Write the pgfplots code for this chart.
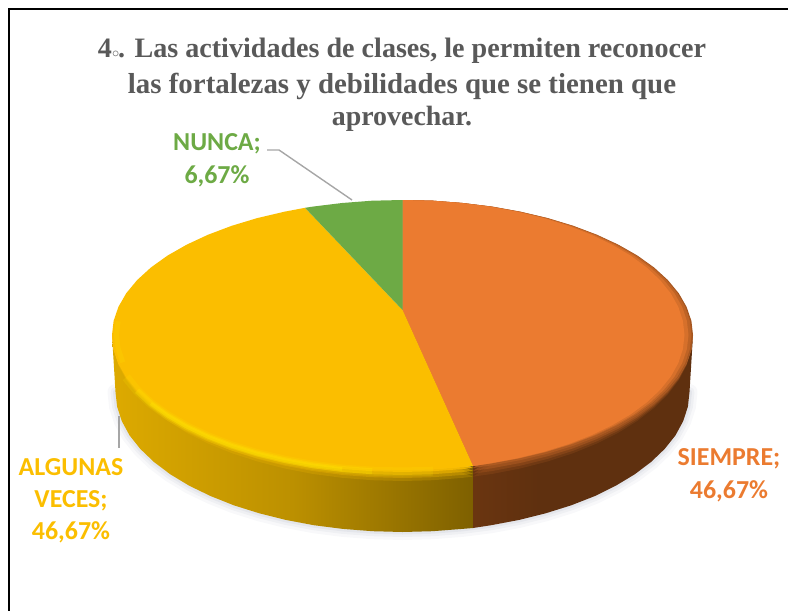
\documentclass[border=0pt]{standalone}
\usepackage{fontspec}
\setmainfont{Liberation Serif}
\newfontfamily\lab{Carlito}
\usepackage{pgfplots}
\pgfplotsset{compat=1.18}
\definecolor{naranja}{HTML}{EB7B30}
\definecolor{amarillo}{HTML}{FBBE00}
\definecolor{verde}{HTML}{6DAA45}
\definecolor{titulo}{HTML}{595959}
\definecolor{guia}{HTML}{A6A6A6}
\definecolor{sombra}{HTML}{B8BCCB}
\definecolor{cafe}{HTML}{5F300F}
\definecolor{cafeclaro}{HTML}{6A3510}
\definecolor{brillo}{HTML}{FFE800}
\definecolor{ladoA}{HTML}{DDAA00}
\definecolor{ladoB}{HTML}{BC9000}
\definecolor{ladoC}{HTML}{7E6000}
\pgfdeclarehorizontalshading{ladoamarillo}{100bp}{color(0bp)=(ladoA); color(25bp)=(ladoA); color(50bp)=(ladoB); color(75bp)=(ladoC); color(100bp)=(ladoC)}
\pgfdeclarehorizontalshading{ladocafe}{100bp}{color(0bp)=(cafeclaro); color(25bp)=(cafeclaro); color(40bp)=(cafe); color(100bp)=(cafe)}
\pgfplotstableread{
x y
115.5 392
117.1 406.6
121.8 421.1
129.5 435.3
140.3 448.9
154 462
170.3 474.3
189.2 485.7
210.5 496
233.8 505.3
259 513.2
285.8 519.9
313.8 525.2
342.8 528.9
372.5 531.2
402.5 532
432.5 531.2
462.2 528.9
491.2 525.2
519.2 519.9
546 513.2
571.2 505.3
595 496
615.8 485.7
634.7 474.3
651 462
664.7 448.9
675.5 435.3
683.2 421.1
687.9 406.6
689.5 392
}\bordeinferior
\pgfplotstableread{
x b2 b5 b8 b11
112 335 335 335 335
113.6 349.3 349.6 349.9 350.3
118.4 363.5 364.1 364.7 365.4
126.2 377.3 378.3 379.2 380.1
137.1 390.7 391.9 393.2 394.4
150.9 403.5 405 406.5 408
167.5 415.5 417.3 419.1 420.8
186.6 426.7 428.7 430.7 432.7
208.1 436.8 439 441.3 443.5
231.7 445.8 448.3 450.7 453.1
257.2 453.6 456.2 458.8 461.4
284.4 460.1 462.9 465.6 468.4
312.7 465.3 468.2 471 473.9
342.1 469 471.9 474.9 477.8
372.1 471.2 474.2 477.2 480.2
402.5 472 475 478 481
432.9 471.2 474.2 477.2 480.2
462.9 469 471.9 474.9 477.8
473 467.9 470.8 473.7 476.6
}\biselamarillo
\pgfplotstableread{
x b2 b5 b8 b11
473 467.9 470.8 473.7 476.6
492.3 465.3 468.2 471 473.9
520.6 460.1 462.9 465.6 468.4
547.8 453.6 456.2 458.8 461.4
573.3 445.8 448.3 450.7 453.1
596.9 436.8 439 441.3 443.5
618.4 426.7 428.7 430.7 432.7
637.5 415.5 417.3 419.1 420.8
654.1 403.5 405 406.5 408
667.9 390.7 391.9 393.2 394.4
678.8 377.3 378.3 379.2 380.1
686.6 363.5 364.1 364.7 365.4
691.4 349.3 349.6 349.9 350.3
693 335 335 335 335
}\biselnaranja
\pgfplotstableread{
y a290 a289 a286 a282
310 402.5 402.5 402.5 402.5
200 402.5 402.5 402.5 402.5
200.7 432.9 432.7 432.4 432
203 462.9 462.6 462 461.1
206.6 492.3 491.8 490.9 489.6
211.7 520.6 520 518.8 517.2
218.1 547.8 547 545.5 543.5
225.8 573.3 572.4 570.6 568.3
234.7 596.9 595.9 593.9 591.2
244.7 618.4 617.3 615 612.1
255.6 637.5 636.3 633.9 630.6
267.5 654.1 652.8 650.2 646.7
280.1 667.9 666.5 663.8 660.1
293.3 678.8 677.4 674.5 670.7
306.9 686.6 685.2 682.2 678.3
320.9 691.4 689.9 686.9 682.9
335 693 691.5 688.5 684.5
349.1 691.4 689.9 686.9 682.9
363.1 686.6 685.2 682.2 678.3
376.7 678.8 677.4 674.5 670.7
389.9 667.9 666.5 663.8 660.1
402.5 654.1 652.8 650.2 646.7
414.4 637.5 636.3 633.9 630.6
425.3 618.4 617.3 615 612.1
435.3 596.9 595.9 593.9 591.2
444.2 573.3 572.4 570.6 568.3
451.9 547.8 547 545.5 543.5
458.3 520.6 520 518.8 517.2
463.4 492.3 491.8 490.9 489.6
466 473 473 473 473
}\caranaranja
\begin{document}
\begin{tikzpicture}
\begin{axis}[
  width=788bp, height=611bp, scale only axis,
  xmin=0, xmax=788, ymin=0, ymax=611, y dir=reverse,
  axis lines=none, no markers, clip=true]
\path (axis cs:0,0) rectangle (axis cs:788,611);
% sombra bajo el disco
\addplot[sombra, opacity=.10, line width=16bp, line cap=round] table[x=x,y=y] {\bordeinferior};
\addplot[sombra, opacity=.14, line width=10bp, line cap=round] table[x=x,y=y] {\bordeinferior};
\addplot[sombra, opacity=.20, line width=5bp, line cap=round] table[x=x,y=y] {\bordeinferior};
% costados
\addplot[draw=none, shade, shading=ladoamarillo] coordinates {
(112,335)(113.6,349.1)(118.4,363.1)(126.2,376.7)(137.1,389.9)(150.9,402.5)(167.5,414.4)(186.6,425.3)(208.1,435.3)(231.7,444.2)(257.2,451.9)(284.4,458.3)(312.7,463.4)(342.1,467)(372.1,469.3)(402.5,470)(432.9,469.3)(462.9,467)(473,466)
(473,528)(462.2,528.9)(432.5,531.2)(402.5,532)(372.5,531.2)(342.8,528.9)(313.8,525.2)(285.8,519.9)(259,513.2)(233.8,505.3)(210.5,496)(189.2,485.7)(170.3,474.3)(154,462)(140.3,448.9)(129.5,435.3)(121.8,421.1)(117.1,406.6)(115.5,392)
} --cycle;
\addplot[draw=none, shade, shading=ladocafe] coordinates {
(473,466)(492.3,463.4)(520.6,458.3)(547.8,451.9)(573.3,444.2)(596.9,435.3)(618.4,425.3)(637.5,414.4)(654.1,402.5)(667.9,389.9)(678.8,376.7)(686.6,363.1)(691.4,349.1)(693,335)
(689.5,392)(687.9,406.6)(683.2,421.1)(675.5,435.3)(664.7,448.9)(651,462)(634.7,474.3)(615.8,485.7)(595,496)(571.2,505.3)(546,513.2)(519.2,519.9)(491.2,525.2)(473,528)
} --cycle;
% bisel bajo la cara superior
\addplot[draw=none, fill=amarillo, opacity=.2] table[x=x,y=b11] {\biselamarillo} --cycle;
\addplot[draw=none, fill=amarillo, opacity=.3] table[x=x,y=b8] {\biselamarillo} --cycle;
\addplot[draw=none, fill=amarillo, opacity=.5] table[x=x,y=b5] {\biselamarillo} --cycle;
\addplot[draw=none, fill=amarillo, opacity=.8] table[x=x,y=b2] {\biselamarillo} --cycle;
\addplot[draw=none, fill=naranja!60!cafe, opacity=.2] table[x=x,y=b11] {\biselnaranja} --cycle;
\addplot[draw=none, fill=naranja!60!cafe, opacity=.3] table[x=x,y=b8] {\biselnaranja} --cycle;
\addplot[draw=none, fill=naranja!60!cafe, opacity=.5] table[x=x,y=b5] {\biselnaranja} --cycle;
\addplot[draw=none, fill=naranja!60!cafe, opacity=.8] table[x=x,y=b2] {\biselnaranja} --cycle;
% cara naranja, de fuera hacia dentro
\addplot[draw=none, fill=naranja!50!cafe] table[x=a290,y=y] {\caranaranja} --cycle;
\addplot[draw=none, fill=naranja!68!cafe] table[x=a289,y=y] {\caranaranja} --cycle;
\addplot[draw=none, fill=naranja!85!cafe] table[x=a286,y=y] {\caranaranja} --cycle;
\addplot[draw=none, fill=naranja] table[x=a282,y=y] {\caranaranja} --cycle;
% caras superiores
\addplot[draw=none, fill=amarillo] coordinates {
(402.5,310)(473,466)(462.9,467)(432.9,469.3)(402.5,470)(372.1,469.3)(342.1,467)(312.7,463.4)(284.4,458.3)(257.2,451.9)(231.7,444.2)(208.1,435.3)(186.6,425.3)(167.5,414.4)(150.9,402.5)(137.1,389.9)(126.2,376.7)(118.4,363.1)(113.6,349.1)(112,335)(113.6,320.9)(118.4,306.9)(126.2,293.3)(137.1,280.1)(150.9,267.5)(167.5,255.6)(186.6,244.7)(208.1,234.7)(231.7,225.8)(257.2,218.1)(284.4,211.7)(305,207.8)
} --cycle;
\addplot[draw=none, fill=verde] coordinates {
(402.5,310)(305,207.8)(312.7,206.6)(342.1,203)(372.1,200.7)(402.5,200)
} --cycle;
% brillo del borde amarillo
\addplot[brillo, opacity=.18, line width=5bp] coordinates {(118.1,321.3)(116.5,335)(118.1,348.7)(122.8,362.3)};
\addplot[brillo, opacity=.15, line width=9bp, restrict x to domain=126:433] table[x=x,y=b2] {\biselamarillo};
\addplot[brillo, opacity=.25, line width=6bp, restrict x to domain=137:373] table[x=x,y=b2] {\biselamarillo};
\addplot[brillo, opacity=.35, line width=3.5bp, restrict x to domain=150:343] table[x=x,y=b2] {\biselamarillo};
% guias
\addplot[guia, line width=1.4bp] coordinates {(267,150)(279,150)(352,200)};
\addplot[guia, line width=1.4bp] coordinates {(119,416)(119,448)};
% marco
\addplot[black, line width=2bp] coordinates {(9,611)(9,9.3)(788,9.3)};
% titulo
\node[anchor=base, text=titulo, font=\fontsize{28.2}{30}\selectfont\bfseries] at (axis cs:402,58) {4{\fontsize{14}{14}\selectfont$\circ$}\kern-1pt. Las actividades de clases, le permiten reconocer};
\node[anchor=base, text=titulo, font=\fontsize{29}{30}\selectfont\bfseries] at (axis cs:402,93.5) {las fortalezas y debilidades que se tienen que};
\node[anchor=base, text=titulo, font=\fontsize{28}{30}\selectfont\bfseries] at (axis cs:402,125) {aprovechar.};
% etiquetas
\node[anchor=base, text=verde, font=\lab\fontsize{26}{28}\selectfont\bfseries] at (axis cs:217,150) {NUNCA;};
\node[anchor=base, text=verde, font=\lab\fontsize{26}{28}\selectfont\bfseries] at (axis cs:217,183) {6,67\%};
\node[anchor=base, text=naranja, font=\lab\fontsize{26}{28}\selectfont\bfseries] at (axis cs:729,465) {SIEMPRE;};
\node[anchor=base, text=naranja, font=\lab\fontsize{26}{28}\selectfont\bfseries] at (axis cs:729,498) {46,67\%};
\node[anchor=base, text=amarillo, font=\lab\fontsize{26}{28}\selectfont\bfseries] at (axis cs:71,475) {ALGUNAS};
\node[anchor=base, text=amarillo, font=\lab\fontsize{26}{28}\selectfont\bfseries] at (axis cs:71,507) {VECES;};
\node[anchor=base, text=amarillo, font=\lab\fontsize{26}{28}\selectfont\bfseries] at (axis cs:71,539) {46,67\%};
\end{axis}
\end{tikzpicture}
\end{document}
